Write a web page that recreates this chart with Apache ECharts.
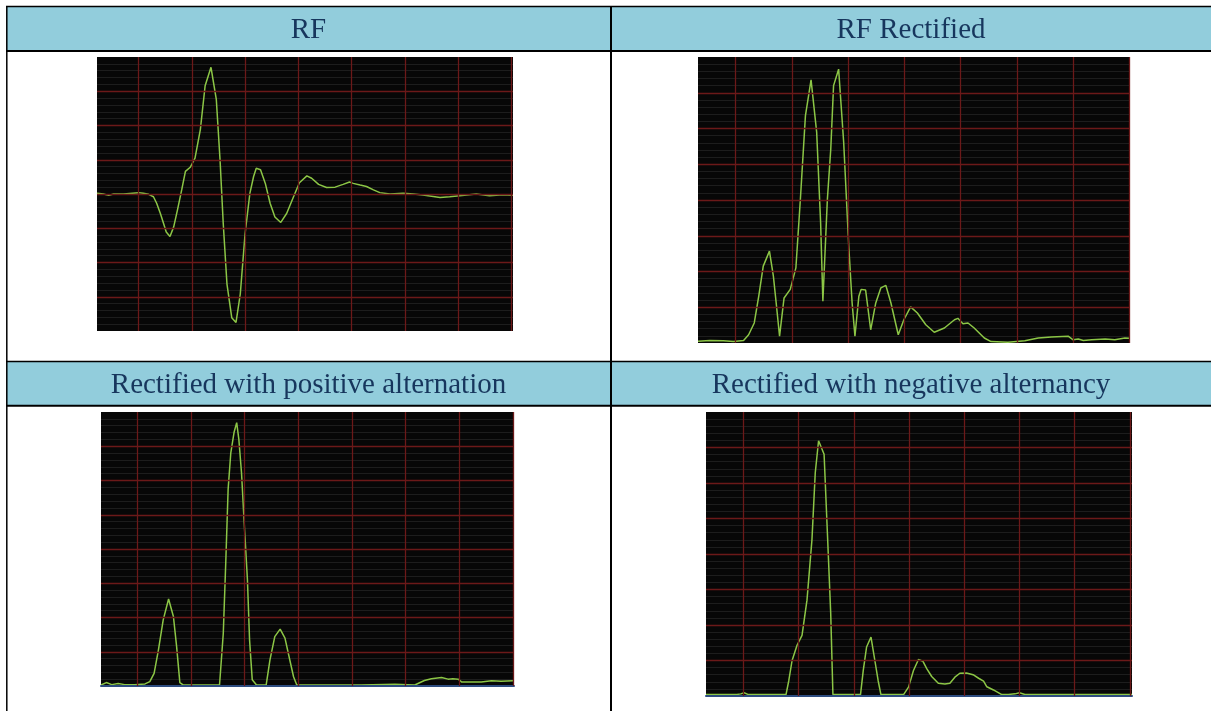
<!DOCTYPE html>
<html>
<head>
<meta charset="utf-8">
<script src="https://cdn.jsdelivr.net/npm/echarts@6/dist/echarts.min.js"></script>
<style>
  html, body { margin: 0; padding: 0; background: #ffffff; }
  #chart { width: 1211px; height: 711px; }
</style>
</head>
<body>
<div id="chart"></div>
<script>
// ---------------- data ----------------
const panelTitles = ['RF', 'RF Rectified', 'Rectified with positive alternation', 'Rectified with negative alternancy'];

// graticule positions (divisions)
const gridDivisions = [0, 1, 2, 3, 4, 5, 6, 7];
const gridLevels = [1, 2, 3, 4, 5, 6, 7];

// RF (bipolar, baseline at 4 div)
const rfTime = [-0.78,-0.66,-0.56,-0.47,-0.28,0,0.09,0.19,0.28,0.34,0.41,0.47,0.52,0.59,0.66,0.73,0.81,0.88,0.97,1.06,1.16,1.25,1.36,1.46,1.53,1.59,1.66,1.75,1.83,1.91,2.0,2.09,2.16,2.21,2.29,2.38,2.47,2.56,2.67,2.78,2.91,3.02,3.16,3.25,3.38,3.53,3.69,3.84,3.96,4.03,4.16,4.28,4.41,4.53,4.72,4.97,5.16,5.34,5.66,5.84,6.03,6.34,6.59,6.84,7.03];
const rfAmp = [4.02,4.0,3.96,4.0,4.0,4.04,4.02,3.99,3.92,3.73,3.43,3.14,2.89,2.76,3.04,3.53,4.12,4.66,4.78,5.05,5.88,7.16,7.70,6.76,5.0,3.14,1.37,0.39,0.25,1.08,2.84,4.02,4.51,4.75,4.71,4.31,3.73,3.33,3.17,3.43,3.92,4.33,4.53,4.46,4.28,4.19,4.2,4.28,4.35,4.31,4.26,4.22,4.12,4.04,4.0,4.02,4.0,3.97,3.9,3.92,3.95,4.0,3.95,3.98,3.96];

// RF Rectified
const rectTime = [-0.67,-0.46,-0.22,-0.04,0.14,0.23,0.33,0.41,0.49,0.60,0.67,0.72,0.78,0.86,0.97,1.07,1.15,1.24,1.34,1.44,1.51,1.55,1.63,1.69,1.74,1.83,1.92,2.01,2.07,2.12,2.19,2.23,2.31,2.40,2.49,2.58,2.67,2.76,2.89,2.99,3.11,3.23,3.38,3.53,3.71,3.89,3.95,4.04,4.13,4.24,4.42,4.54,4.84,5.14,5.38,5.61,5.91,6.0,6.09,6.18,6.33,6.57,6.74,6.92,7.0];
const rectAmp = [0.05,0.07,0.06,0.04,0.07,0.23,0.56,1.31,2.15,2.57,1.87,1.12,0.19,1.26,1.50,2.10,4.02,6.36,7.36,5.89,3.36,1.17,4.02,5.42,7.20,7.66,5.61,2.71,1.12,0.19,1.31,1.50,1.48,0.37,1.12,1.54,1.61,1.12,0.23,0.65,1.01,0.84,0.51,0.30,0.42,0.65,0.69,0.54,0.56,0.42,0.14,0.04,0.02,0.06,0.14,0.17,0.19,0.09,0.11,0.07,0.09,0.11,0.09,0.14,0.13];

// Rectified with positive alternation
const posTime = [-0.68,-0.58,-0.48,-0.36,-0.24,-0.05,0.14,0.23,0.31,0.39,0.48,0.58,0.67,0.73,0.79,0.85,1.07,1.32,1.53,1.60,1.65,1.69,1.74,1.80,1.85,1.89,1.94,1.99,2.05,2.09,2.14,2.22,2.40,2.47,2.56,2.66,2.75,2.84,2.91,2.97,3.24,3.55,4.17,4.80,5.17,5.35,5.48,5.67,5.79,5.88,5.98,6.04,6.22,6.41,6.60,6.78,7.0];
const posAmp = [0.03,0.10,0.04,0.07,0.04,0.04,0.06,0.13,0.37,1.05,1.93,2.54,2.03,1.15,0.10,0.03,0.03,0.03,0.03,1.54,3.79,5.74,6.81,7.40,7.69,7.20,6.22,4.76,3.10,1.34,0.18,0.03,0.03,0.76,1.44,1.66,1.40,0.76,0.27,0.03,0.03,0.03,0.03,0.05,0.03,0.16,0.21,0.25,0.20,0.21,0.20,0.12,0.12,0.12,0.15,0.14,0.15];

// Rectified with negative alternancy
const negTime = [-0.68,-0.42,-0.12,-0.05,0.01,0.09,0.42,0.77,0.82,0.88,0.97,1.06,1.15,1.24,1.30,1.36,1.46,1.52,1.58,1.62,1.87,2.12,2.17,2.23,2.31,2.38,2.44,2.49,2.72,2.90,2.99,3.08,3.17,3.25,3.32,3.41,3.53,3.65,3.74,3.83,3.92,4.04,4.16,4.26,4.35,4.41,4.53,4.68,4.80,4.92,5.0,5.10,5.25,5.85,6.46,7.04];
const negAmp = [0.04,0.04,0.04,0.06,0.09,0.04,0.04,0.04,0.43,1.00,1.43,1.71,2.70,4.40,6.29,7.19,6.81,4.59,2.33,0.04,0.04,0.04,0.72,1.38,1.66,1.00,0.43,0.04,0.04,0.04,0.25,0.72,1.03,0.98,0.77,0.55,0.36,0.34,0.36,0.53,0.64,0.65,0.60,0.50,0.42,0.26,0.17,0.04,0.04,0.06,0.09,0.04,0.04,0.04,0.04,0.04];

// ---------------- layout ----------------
const panels = [
  { time: rfTime,   amp: rfAmp,   left: 97,  top: 57,  width: 416, height: 274, xmin: -0.78, xmax: 7.03, base: false },
  { time: rectTime, amp: rectAmp, left: 698, top: 57,  width: 432, height: 286, xmin: -0.67, xmax: 7.01, base: false },
  { time: posTime,  amp: posAmp,  left: 101, top: 412, width: 413, height: 274, xmin: -0.68, xmax: 7.02, base: true },
  { time: negTime,  amp: negAmp,  left: 706, top: 412, width: 426, height: 284, xmin: -0.68, xmax: 7.04, base: true }
];

const TRACE = '#8cc646';
const RED = '#6c1919';
const MINOR = '#1d1d1d';
const HEADER_BG = '#92cddc';
const HEADER_TXT = '#17365d';

const grids = [], xAxes = [], yAxes = [], series = [];
panels.forEach((p, i) => {
  grids.push({ left: p.left, top: p.top, width: p.width, height: p.height,
    show: true, backgroundColor: '#070707', borderWidth: 0, containLabel: false });
  xAxes.push({ gridIndex: i, type: 'value', min: p.xmin, max: p.xmax, z: 4,
    axisLabel: { show: false }, axisTick: { show: false }, splitLine: { show: false },
    axisLine: { show: p.base, onZero: false, lineStyle: { color: '#2d4c80', width: 2 } } });
  yAxes.push({ gridIndex: i, type: 'value', min: 0, max: 8, interval: 1,
    axisLabel: { show: false }, axisTick: { show: false }, axisLine: { show: false },
    splitLine: { show: false },
    minorTick: { show: false, splitNumber: 5 },
    minorSplitLine: { show: true, lineStyle: { color: MINOR, width: 1 } } });
  // red graticule (vertical + horizontal)
  series.push({ type: 'line', xAxisIndex: i, yAxisIndex: i, data: [], z: 1, silent: true,
    markLine: { silent: true, symbol: ['none', 'none'], label: { show: false },
      lineStyle: { color: RED, type: 'solid', width: 1.3 },
      emphasis: { disabled: true },
      data: gridDivisions.map(v => ({ xAxis: v })).concat(gridLevels.map(v => ({ yAxis: v }))) } });
  // trace
  series.push({ type: 'line', xAxisIndex: i, yAxisIndex: i, z: 3,
    data: p.time.map((t, k) => [t, p.amp[k]]),
    showSymbol: false, smooth: false, silent: true,
    lineStyle: { color: TRACE, width: 1.5 } });
});

// table framework
const graphic = [];
graphic.push({ type: 'rect', shape: { x: 6, y: 7, width: 1205, height: 43 }, style: { fill: HEADER_BG }, z: 0 });
graphic.push({ type: 'rect', shape: { x: 6, y: 362, width: 1205, height: 43 }, style: { fill: HEADER_BG }, z: 0 });
const hLines = [[6.5, 1.5], [51, 2], [361.5, 1.5], [405.8, 2]];
hLines.forEach(([y, w]) => graphic.push({ type: 'line', shape: { x1: 6, y1: y, x2: 1211, y2: y },
  style: { stroke: '#000', lineWidth: w }, z: 5 }));
graphic.push({ type: 'line', shape: { x1: 6.8, y1: 6, x2: 6.8, y2: 711 }, style: { stroke: '#000', lineWidth: 1.5 }, z: 5 });
graphic.push({ type: 'line', shape: { x1: 611, y1: 6, x2: 611, y2: 711 }, style: { stroke: '#000', lineWidth: 2 }, z: 5 });

const titlePos = [[308.5, 30], [911, 30], [308.5, 385], [911, 385]];
panelTitles.forEach((t, i) => graphic.push({ type: 'text', x: titlePos[i][0], y: titlePos[i][1], z: 6,
  style: { text: t, fill: HEADER_TXT, font: '29px "Liberation Serif", serif', align: 'center', verticalAlign: 'middle' } }));

const chart = echarts.init(document.getElementById('chart'), null, { renderer: 'canvas' });
chart.setOption({
  animation: false,
  backgroundColor: '#ffffff',
  grid: grids,
  xAxis: xAxes,
  yAxis: yAxes,
  series: series,
  graphic: graphic
});
</script>
</body>
</html>
